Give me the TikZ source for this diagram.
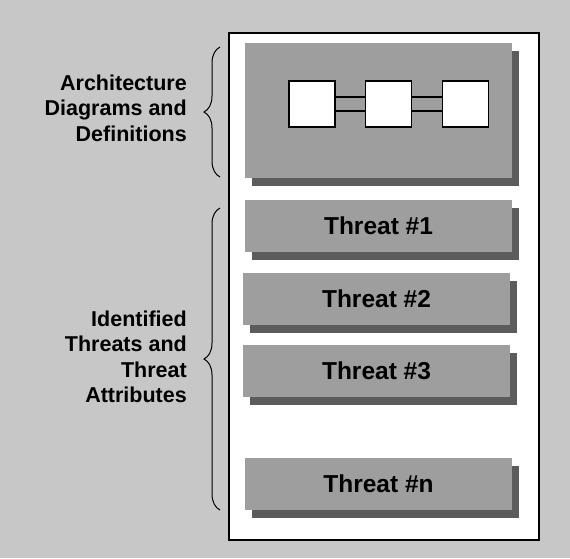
\documentclass[tikz,border=0pt]{standalone}
\usepackage{fontspec}
\setmainfont{Liberation Sans}
\usepackage{xcolor}
\usepackage{tikz}
\usetikzlibrary{positioning, shadows, decorations.pathreplacing}
\definecolor{bggray}{gray}{0.78}
\definecolor{boxgray}{gray}{0.62}
\definecolor{shadegray}{gray}{0.36}
\tikzstyle{panel} = [rectangle, minimum width=267pt, inner sep=0pt, outer sep=0pt, fill=boxgray, general shadow={fill=shadegray, shadow xshift=7pt, shadow yshift=-8pt}]
\tikzstyle{threat} = [panel, minimum height=52pt, text centered, font=\bfseries\fontsize{24.5}{28}\selectfont]
\tikzstyle{unit} = [rectangle, minimum width=46pt, minimum height=46pt, inner sep=0pt, draw=black, line width=1.2pt, fill=white]
\tikzstyle{label} = [anchor=east, align=right, inner sep=0pt, font=\bfseries\fontsize{21.5}{25.5}\selectfont]
\tikzstyle{line} = [draw, line width=1.2pt]
\tikzstyle{bracket} = [draw, line width=1pt, decorate, decoration={brace, amplitude=16pt}]

\begin{document}
\begin{tikzpicture}[x=1pt, y=-1pt, node distance = 21pt]
    % Background
    \fill [bggray] (0,0) rectangle (570,558);
    \useasboundingbox (0,0) rectangle (570,558);

    % Nodes
    \node [rectangle, draw=black, line width=1.8pt, fill=white, minimum width=310pt, minimum height=507pt] (frame) at (384,286.5) {};
    \node [panel, minimum height=135pt] (arch) at (378.5,110.5) {};
    \node [unit] (sqA) at (312,104) {};
    \node [unit, right=29pt of sqA] (sqB) {};
    \node [unit, right=30pt of sqB] (sqC) {};
    \node [threat, below=22pt of arch] (threat1) {Threat \#1};
    \node [threat, below of=threat1, node distance=73pt, xshift=-2pt] (threat2) {Threat \#2};
    \node [threat, below of=threat2, node distance=72pt] (threat3) {Threat \#3};
    \node [threat, below of=threat3, node distance=113pt, xshift=2pt] (threatn) {Threat \#n};
    \node [label] (archlabel) at (187,108) {Architecture\\Diagrams and\\Definitions};
    \node [label] (threatlabel) at (187,357) {Identified\\Threats and\\Threat\\Attributes};

    % Edges
    \path [line] ([yshift=7pt]sqA.east) -- ([yshift=7pt]sqB.west);
    \path [line] ([yshift=-7pt]sqA.east) -- ([yshift=-7pt]sqB.west);
    \path [line] ([yshift=7pt]sqB.east) -- ([yshift=7pt]sqC.west);
    \path [line] ([yshift=-7pt]sqB.east) -- ([yshift=-7pt]sqC.west);

    % Braces
    \coordinate (archbot) at (220,177);
    \coordinate (archtop) at (220,47);
    \coordinate (threatbot) at (220,510);
    \coordinate (threattop) at (220,208);
    \path [bracket] (archbot) -- (archtop);
    \path [bracket] (threatbot) -- (threattop);
\end{tikzpicture}
\end{document}
